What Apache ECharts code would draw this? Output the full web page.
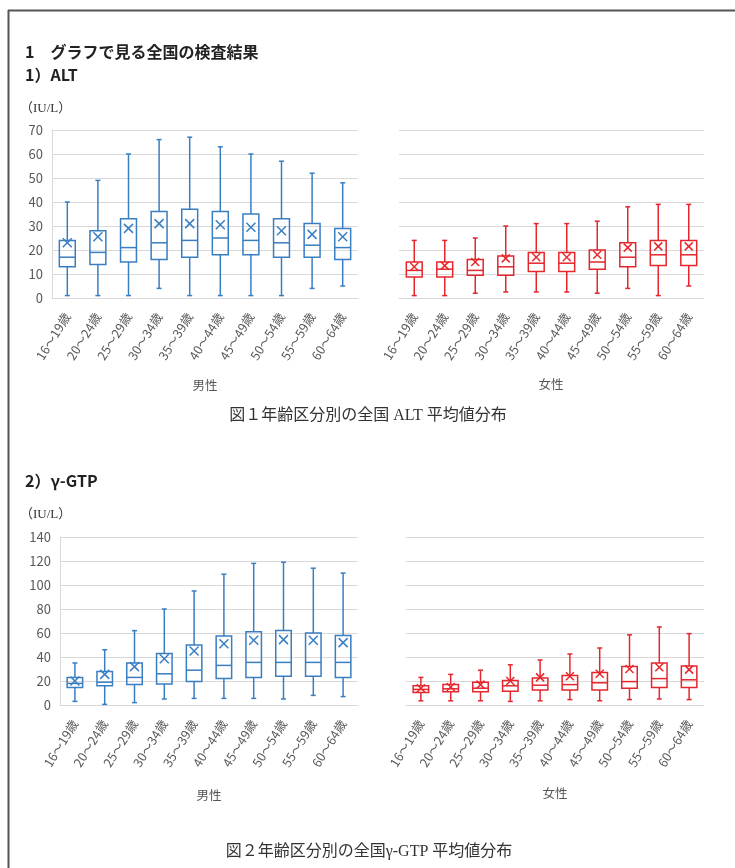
<!DOCTYPE html>
<html>
<head>
<meta charset="utf-8">
<script src="https://cdn.jsdelivr.net/npm/echarts@6/dist/echarts.min.js"></script>
<style>
  html, body { margin: 0; padding: 0; background: #fff; }
  #chart { width: 735px; height: 868px; }
</style>
</head>
<body>
<div id="chart"></div>
<script>
// Age groups shared by all four panels
const ageGroups = ['16～19歳', '20～24歳', '25～29歳', '30～34歳', '35～39歳',
                   '40～44歳', '45～49歳', '50～54歳', '55～59歳', '60～64歳'];

// y-axis ticks
const altTicks = [0, 10, 20, 30, 40, 50, 60, 70];
const gtpTicks = [0, 20, 40, 60, 80, 100, 120, 140];

// ALT (IU/L): each row is [min, Q1, median, Q3, max]
const altMaleBox = [
  [1, 13, 17, 24, 40], [1, 14, 19, 28, 49], [1, 15, 21, 33, 60], [4, 16, 23, 36, 66],
  [1, 17, 24, 37, 67], [1, 18, 25, 36, 63], [1, 18, 24, 35, 60], [1, 17, 23, 33, 57],
  [4, 17, 22, 31, 52], [5, 16, 21, 29, 48]
];
const altMaleMean = [23, 25.5, 29, 31, 31, 30.5, 29.5, 28, 26.5, 25.5];

const altFemaleBox = [
  [1, 8.7, 11.5, 15, 24], [1, 8.7, 12, 15, 24], [2, 9.5, 11.5, 16, 25], [2.5, 9.5, 13, 17.5, 30],
  [2.5, 11, 14.5, 19, 31], [2.5, 11, 14.5, 19, 31], [2, 12, 15, 20, 32], [4, 13, 17, 23, 38],
  [1, 13.5, 18, 24, 39], [5, 13.5, 18, 24, 39]
];
const altFemaleMean = [13, 13.5, 15, 16.5, 17, 17, 18, 21, 21.5, 21.5];

// γ-GTP (IU/L): each row is [min, Q1, median, Q3, max]
const gtpMaleBox = [
  [3, 14.5, 18, 23, 35], [0.5, 16, 19, 28, 46], [2, 17, 23, 35, 62], [5, 17.5, 26, 43, 80],
  [5.5, 19.5, 29, 50, 95], [5.5, 22, 33, 57.5, 109], [5.5, 23, 35.5, 61, 118], [5, 24, 35.5, 62, 119],
  [8, 24, 35.5, 60, 114], [7, 23, 35.5, 58, 110]
];
const gtpMaleMean = [20, 25.5, 32, 38.5, 45, 51, 54, 54.5, 54, 52];

const gtpFemaleBox = [
  [3.5, 10.5, 13, 16, 23], [3.5, 11, 13.5, 17, 25.5], [3.5, 11, 14, 19, 29], [3, 11.5, 16, 20.5, 33.5],
  [3.5, 12.5, 16.5, 22.5, 37.5], [4.5, 12.5, 17, 24.5, 42.5], [3.5, 12.5, 18.5, 27, 47.5], [4.5, 14, 19.5, 32, 58.5],
  [5, 14.5, 22, 35, 65], [4.5, 14.5, 21, 32.5, 59.5]
];
const gtpFemaleMean = [14, 15, 17, 20, 23, 24, 26, 30, 31.5, 29.5];

const MALE = '#3a7ec2';
const FEMALE = '#e5262c';
const GRID_LINE = '#d9d9d9';
const LABEL = '#595959';
const SANS = '"Noto Sans CJK JP", "Noto Sans", sans-serif';
const SERIF = '"Liberation Serif", "DejaVu Serif", "Noto Sans CJK JP", serif';

// rows -> [index, min, q1, median, q3, max, mean]
function toData(box, mean) {
  return box.map((r, i) => [i, r[0], r[1], r[2], r[3], r[4], mean[i]]);
}

// box, whiskers, caps, median line and an "×" at the mean
function boxRenderer(color, xSize) {
  return function (params, api) {
    const i = api.value(0);
    const pMin = api.coord([i, api.value(1)]);
    const pQ1 = api.coord([i, api.value(2)]);
    const pMed = api.coord([i, api.value(3)]);
    const pQ3 = api.coord([i, api.value(4)]);
    const pMax = api.coord([i, api.value(5)]);
    const pMean = api.coord([i, api.value(6)]);
    const band = api.size([1, 0])[0];
    const half = band * 0.26;
    const cap = 2.5;
    const cx = pMed[0];
    const st = { stroke: color, lineWidth: 1.5, fill: null };
    const line = (x1, y1, x2, y2) => ({ type: 'line', shape: { x1, y1, x2, y2 }, style: st });
    const s = xSize / 2;
    return {
      type: 'group',
      children: [
        line(cx, pMax[1], cx, pQ3[1]),
        line(cx, pQ1[1], cx, pMin[1]),
        line(cx - cap, pMax[1], cx + cap, pMax[1]),
        line(cx - cap, pMin[1], cx + cap, pMin[1]),
        { type: 'rect', shape: { x: cx - half, y: pQ3[1], width: half * 2, height: pQ1[1] - pQ3[1] }, style: st },
        line(cx - half, pMed[1], cx + half, pMed[1]),
        line(cx - s, pMean[1] - s, cx + s, pMean[1] + s),
        line(cx - s, pMean[1] + s, cx + s, pMean[1] - s)
      ]
    };
  };
}

function xAxis(gridIndex) {
  return {
    type: 'category', gridIndex, data: ageGroups, boundaryGap: true,
    axisTick: { show: false },
    axisLine: { lineStyle: { color: GRID_LINE, width: 1 } },
    axisLabel: { rotate: 58, margin: 16, fontSize: 12.5, color: LABEL, fontFamily: SANS, interval: 0 }
  };
}

function yAxis(gridIndex, ticks, showLabels) {
  return {
    type: 'value', gridIndex,
    min: ticks[0], max: ticks[ticks.length - 1], interval: ticks[1] - ticks[0],
    axisLine: { show: showLabels, lineStyle: { color: GRID_LINE } },
    axisTick: { show: false },
    splitLine: { lineStyle: { color: GRID_LINE, width: 1 } },
    axisLabel: { show: showLabels, fontSize: 13, color: LABEL, fontFamily: SANS, margin: 9 }
  };
}

function boxSeries(idx, color, xSize, box, mean) {
  return {
    type: 'custom', xAxisIndex: idx, yAxisIndex: idx,
    renderItem: boxRenderer(color, xSize),
    encode: { x: 0, y: [1, 5] },
    data: toData(box, mean),
    clip: false, silent: true
  };
}

function txt(x, y, text, opts) {
  return {
    type: 'text', left: x, top: y, silent: true,
    style: Object.assign({ text, fill: '#222', font: '13px ' + SANS, textVerticalAlign: 'middle' }, opts || {})
  };
}

function ctxt(x, y, text, opts) {
  return {
    type: 'text', x, y, silent: true,
    style: Object.assign({ text, fill: '#555', font: '12.5px ' + SANS, textAlign: 'center', textVerticalAlign: 'middle' }, opts || {})
  };
}

const chart = echarts.init(document.getElementById('chart'), null, { renderer: 'canvas' });

chart.setOption({
  animation: false,
  backgroundColor: '#fff',
  grid: [
    { left: 52, top: 130, width: 306, height: 168 },
    { left: 399, top: 130, width: 305, height: 168 },
    { left: 60, top: 537, width: 298, height: 168 },
    { left: 406, top: 537, width: 298, height: 168 }
  ],
  xAxis: [xAxis(0), xAxis(1), xAxis(2), xAxis(3)],
  yAxis: [yAxis(0, altTicks, true), yAxis(1, altTicks, false), yAxis(2, gtpTicks, true), yAxis(3, gtpTicks, false)],
  series: [
    boxSeries(0, MALE, 9, altMaleBox, altMaleMean),
    boxSeries(1, FEMALE, 8, altFemaleBox, altFemaleMean),
    boxSeries(2, MALE, 9, gtpMaleBox, gtpMaleMean),
    boxSeries(3, FEMALE, 8, gtpFemaleBox, gtpFemaleMean)
  ],
  graphic: [
    // page frame (top and left rules)
    { type: 'line', shape: { x1: 8, y1: 10.5, x2: 735, y2: 10.5 }, style: { stroke: '#555', lineWidth: 2 }, silent: true },
    { type: 'line', shape: { x1: 8.5, y1: 10, x2: 8.5, y2: 868 }, style: { stroke: '#555', lineWidth: 2 }, silent: true },

    txt(25, 44, '1　グラフで見る全国の検査結果', { font: 'bold 16px ' + SANS }),
    txt(25, 67, '1）ALT', { font: 'bold 16px ' + SANS }),
    txt(20, 102, '（IU/L）', { font: '13px ' + SERIF, fill: '#333' }),

    ctxt(205, 385, '男性'),
    ctxt(551, 384, '女性'),
    ctxt(368, 416, '図１年齢区分別の全国 ALT 平均値分布', { font: '16px ' + SERIF, fill: '#333' }),

    txt(25, 473, '2）γ-GTP', { font: 'bold 16px ' + SANS }),
    txt(20, 508, '（IU/L）', { font: '13px ' + SERIF, fill: '#333' }),

    ctxt(209, 795, '男性'),
    ctxt(555, 793, '女性'),
    ctxt(369, 852, '図２年齢区分別の全国γ-GTP 平均値分布', { font: '16px ' + SERIF, fill: '#333' })
  ]
});
</script>
</body>
</html>
